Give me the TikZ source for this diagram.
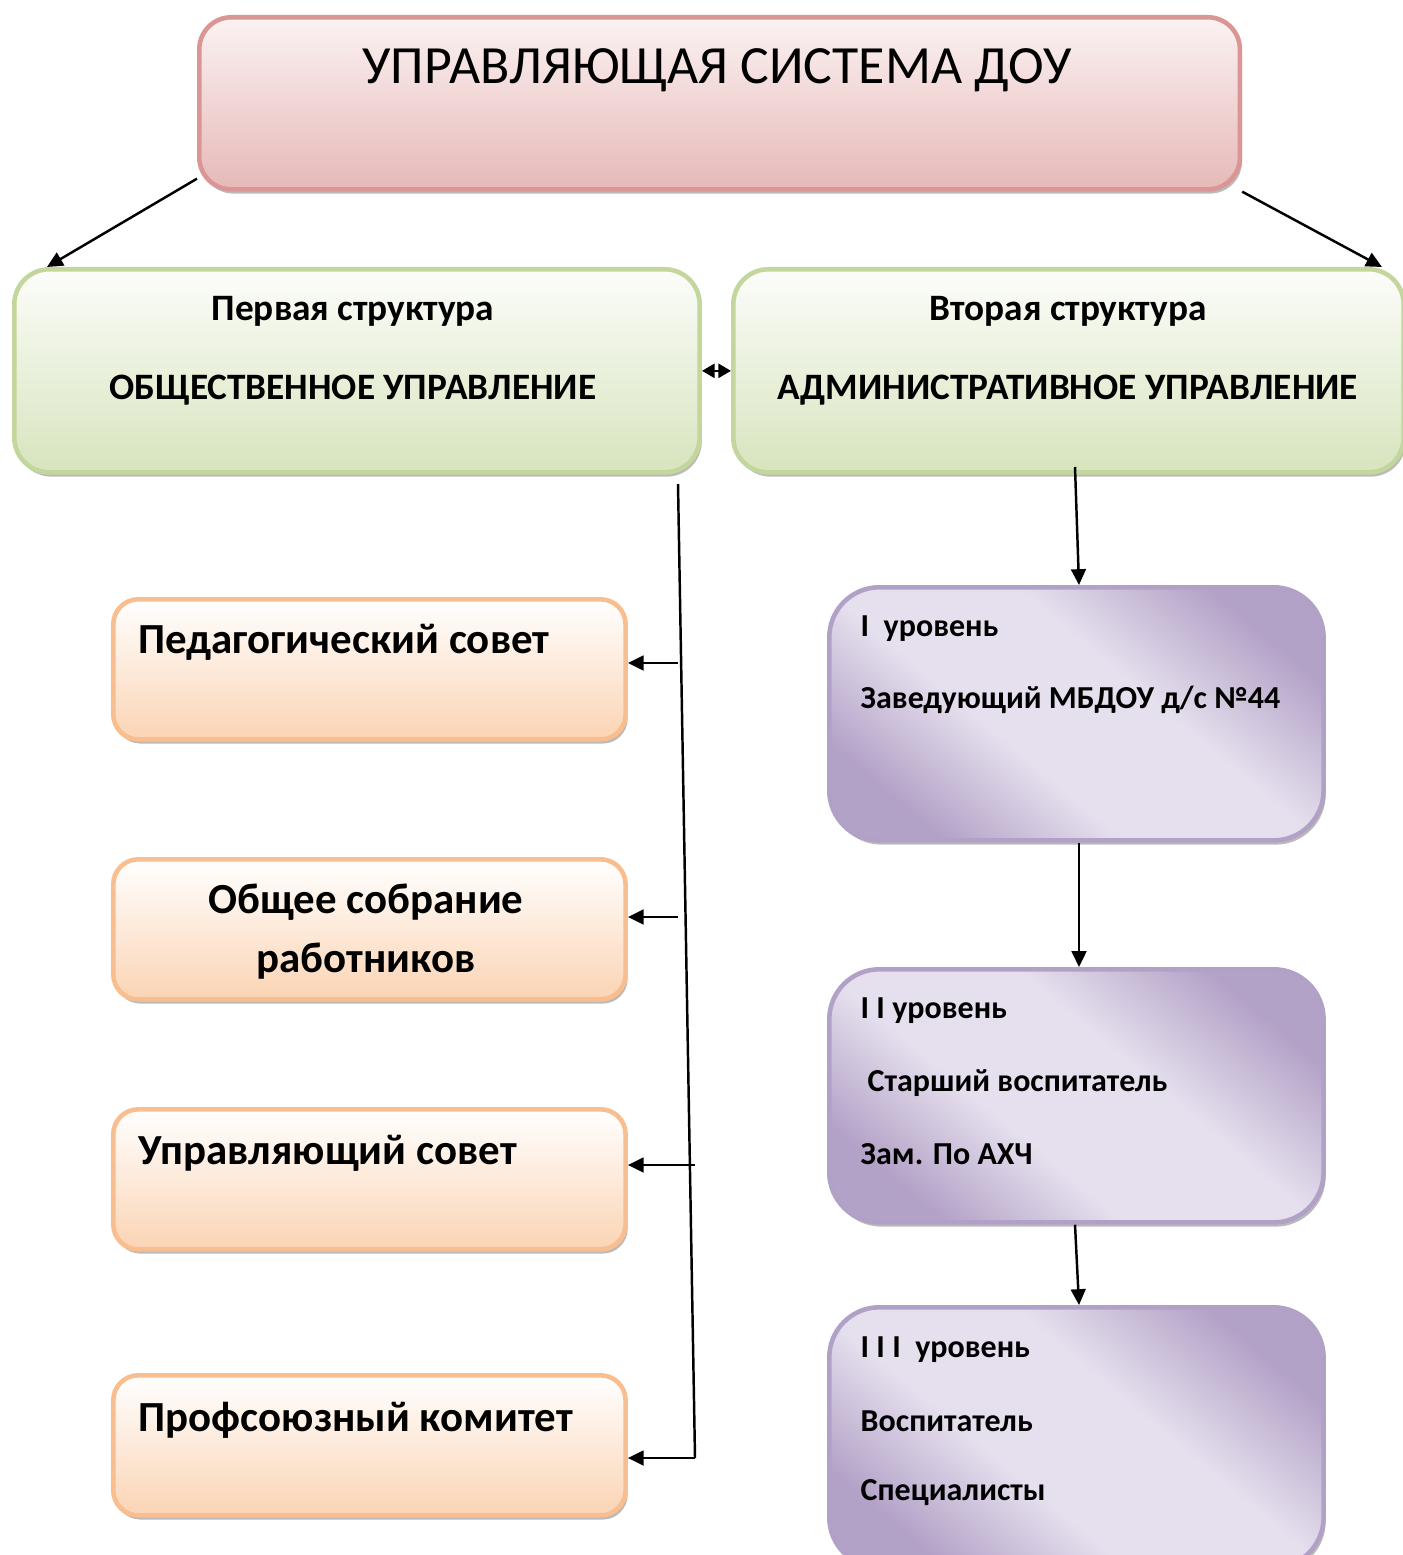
\documentclass[tikz,border=0pt]{standalone}
\usepackage{fontspec}
\setmainfont{Carlito}
\usetikzlibrary{arrows.meta,shadows,calc}

\definecolor{pinkTop}{HTML}{FBF2F2}
\definecolor{pinkBot}{HTML}{E6B9B8}
\definecolor{pinkLine}{HTML}{D99694}
\definecolor{greenTop}{HTML}{FCFDFA}
\definecolor{greenBot}{HTML}{D7E4BD}
\definecolor{greenLine}{HTML}{C3D69B}
\definecolor{orTop}{HTML}{FFFFFF}
\definecolor{orBot}{HTML}{FBD4B4}
\definecolor{orLine}{HTML}{F9BE8F}
\definecolor{purDark}{HTML}{B3A2C7}
\definecolor{purLight}{HTML}{E6E0EE}
\definecolor{purLine}{HTML}{B2A1C7}

\pgfdeclareverticalshading{purshade}{100bp}{color(0bp)=(purDark); color(25bp)=(purDark);
    color(41bp)=(purLight); color(58bp)=(purLight); color(75bp)=(purDark); color(100bp)=(purDark)}

\begin{document}
\begin{tikzpicture}[x=0.01cm, y=-0.01cm,
    box/.style={draw, line width=1.3pt, anchor=north west, inner sep=0pt,
        drop shadow={shadow xshift=0.6pt, shadow yshift=-1.2pt, opacity=0.45, fill=black!60}},
    pinkbox/.style={box, draw=pinkLine, rounded corners=0.32cm, top color=pinkTop, bottom color=pinkBot},
    greenbox/.style={box, draw=greenLine, rounded corners=0.35cm, top color=greenTop, bottom color=greenBot},
    orbox/.style={box, draw=orLine, rounded corners=0.25cm, top color=orTop, bottom color=orBot,
        minimum width=5.12cm, minimum height=1.40cm},
    purbox/.style={box, draw=purLine, rounded corners=0.5cm, shade, shading=purshade,
        shading angle=-40, minimum width=4.94cm},
    head/.style={font=\bfseries\fontsize{10.6}{12}\selectfont},
    ortxt/.style={font=\bfseries\fontsize{12.2}{15}\selectfont, anchor=west, inner sep=0pt},
    purtxt/.style={font=\bfseries\fontsize{9.1}{11}\selectfont, anchor=west, inner sep=0pt},
    arr/.style={-{Triangle[length=4.5pt,width=4.2pt]}, line width=0.7pt}]

    \useasboundingbox (0,0) rectangle (1402,1555);

    \node[pinkbox, minimum width=10.40cm, minimum height=1.72cm] (top) at (197,15) {};
    \node[font=\fontsize{15.3}{18}\selectfont] (title) at (717,70) {УПРАВЛЯЮЩАЯ СИСТЕМА ДОУ};

    \node[greenbox, minimum width=6.85cm, minimum height=2.03cm] (obsh) at (12,267) {};
    \node[head] (obsh1) at (353,311) {Первая структура};
    \node[head] (obsh2) at (353,390) {ОБЩЕСТВЕННОЕ УПРАВЛЕНИЕ};

    \node[greenbox, minimum width=6.70cm, minimum height=2.03cm] (adm) at (731,267) {};
    \node[head] (adm1) at (1068,311) {Вторая структура};
    \node[head] (adm2) at (1068,390) {АДМИНИСТРАТИВНОЕ УПРАВЛЕНИЕ};

    \node[orbox] (ped) at (111,597) {};
    \node[ortxt] (ped1) at (138,642) {Педагогический совет};
    \node[orbox] (sobr) at (111,857) {};
    \node[ortxt, anchor=center] (sobr1) at (366,902) {Общее собрание};
    \node[ortxt, anchor=center] (sobr2) at (366,961) {работников};
    \node[orbox] (upr) at (111,1107) {};
    \node[ortxt] (upr1) at (138,1153) {Управляющий совет};
    \node[orbox] (prof) at (111,1373) {};
    \node[ortxt] (prof1) at (138,1420) {Профсоюзный комитет};

    \node[purbox, minimum height=2.53cm] (lv1) at (827,585) {};
    \node[purtxt] (lv1a) at (860,629) {I~~уровень};
    \node[purtxt] (lv1b) at (860,700) {Заведующий МБДОУ д/с №44};

    \node[purbox, minimum height=2.53cm] (lv2) at (827,967) {};
    \node[purtxt] (lv2a) at (860,1011) {I I уровень};
    \node[purtxt] (lv2b) at (867,1083) {Старший воспитатель};
    \node[purtxt] (lv2c) at (860,1154) {Зам. По АХЧ};

    \node[purbox, minimum height=2.60cm] (lv3) at (827,1305) {};
    \node[purtxt] (lv3a) at (860,1350) {I I I~~уровень};
    \node[purtxt] (lv3b) at (860,1421) {Воспитатель};
    \node[purtxt] (lv3c) at (860,1493) {Специалисты};

    \draw[arr] ($(top.south west)+(0,-13)$) -- ($(obsh.north west)+(35,0)$);
    \draw[arr] (top.south east) -- ($(adm.north east)+(-24,0)$);
    \draw[{Triangle[length=3.6pt,width=4pt]}-{Triangle[length=3.6pt,width=4pt]}, line width=0.7pt]
        (obsh.east) -- (adm.west);

    \coordinate (vtop) at (678,484);
    \coordinate (vbot) at (695,1458);
    \draw[line width=0.7pt] (vtop) -- (vbot);
    \foreach \b/\xx/\yy in {ped/678/663, sobr/678/917, upr/695/1165, prof/695/1458} {
            \draw[arr] (\xx,\yy) -- (\b.east |- 0,\yy);
        }

    \draw[arr] (1075,467) -- (lv1.north -| 1079,0);
    \draw[arr] (lv1.south -| 1079,0) -- (lv2.north -| 1079,0);
    \draw[arr] (lv2.south -| 1075,0) -- (lv3.north -| 1079,0);
\end{tikzpicture}
\end{document}
